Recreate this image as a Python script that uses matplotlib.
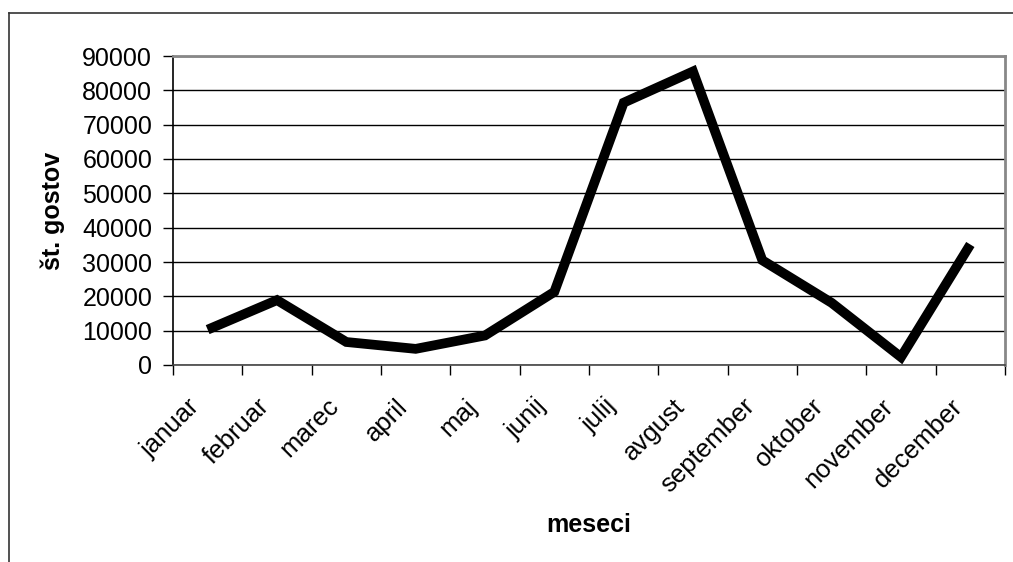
import matplotlib.pyplot as plt
import matplotlib.transforms as mtransforms
import numpy as np

plt.rcParams['font.family'] = ['Liberation Sans', 'DejaVu Sans']

meseci = ['januar', 'februar', 'marec', 'april', 'maj', 'junij',
          'julij', 'avgust', 'september', 'oktober', 'november', 'december']
gostje = [10300, 18900, 6700, 4700, 8600, 21300,
          76400, 85500, 30500, 18100, 2300, 35100]

fig = plt.figure(figsize=(10.13, 5.62), dpi=100)
ax = fig.add_axes([173 / 1013, 1 - 365 / 562, 832 / 1013, 309 / 562])

# frame of the whole chart (cropped at right and bottom)
fig.add_artist(plt.Line2D([9 / 1013, 9 / 1013], [0, 1 - 13 / 562], color='#333333', lw=1.2,
                          transform=fig.transFigure))
fig.add_artist(plt.Line2D([9 / 1013, 1], [1 - 13 / 562, 1 - 13 / 562], color='#333333', lw=1.2,
                          transform=fig.transFigure))

x = np.arange(len(meseci))
ax.plot(x, gostje, color='black', lw=7, solid_joinstyle='miter', solid_capstyle='butt', zorder=3)

ax.set_xlim(-0.5, len(meseci) - 0.5)
ax.set_ylim(0, 90000)
ax.set_yticks(np.arange(0, 90001, 10000))
ax.yaxis.grid(True, color='black', lw=1)
ax.set_axisbelow(True)

ax.set_xticks(np.arange(-0.5, len(meseci)), minor=False)
ax.set_xticklabels([])
ax.set_xticks(x, minor=True)
ax.set_xticklabels(meseci, minor=True, rotation=45, ha='right', va='top',
                   rotation_mode='anchor', fontsize=18.5)
ax.tick_params(axis='x', which='minor', length=0, pad=21)
ax.tick_params(axis='x', which='major', length=7, width=1, direction='out')
ax.tick_params(axis='y', length=7, width=1, labelsize=18, pad=8)

shift = mtransforms.ScaledTranslation(-20 / 100, 0, fig.dpi_scale_trans)
for lab in ax.get_xticklabels(minor=True):
    lab.set_transform(lab.get_transform() + shift)

for s in ['top', 'right']:
    ax.spines[s].set_color('#888888')
    ax.spines[s].set_linewidth(2)
ax.spines['left'].set_linewidth(1.2)
ax.spines['bottom'].set_linewidth(1.2)
ax.spines['bottom'].set_color('#444444')

fig.text(53 / 1013, 1 - 211 / 562, 'št. gostov', rotation=90, ha='center', va='center',
         fontsize=18, fontweight='bold')
fig.text(589 / 1013, 1 - 525 / 562, 'meseci', ha='center', va='center',
         fontsize=18, fontweight='bold')

fig.savefig('out.png', dpi=100)
